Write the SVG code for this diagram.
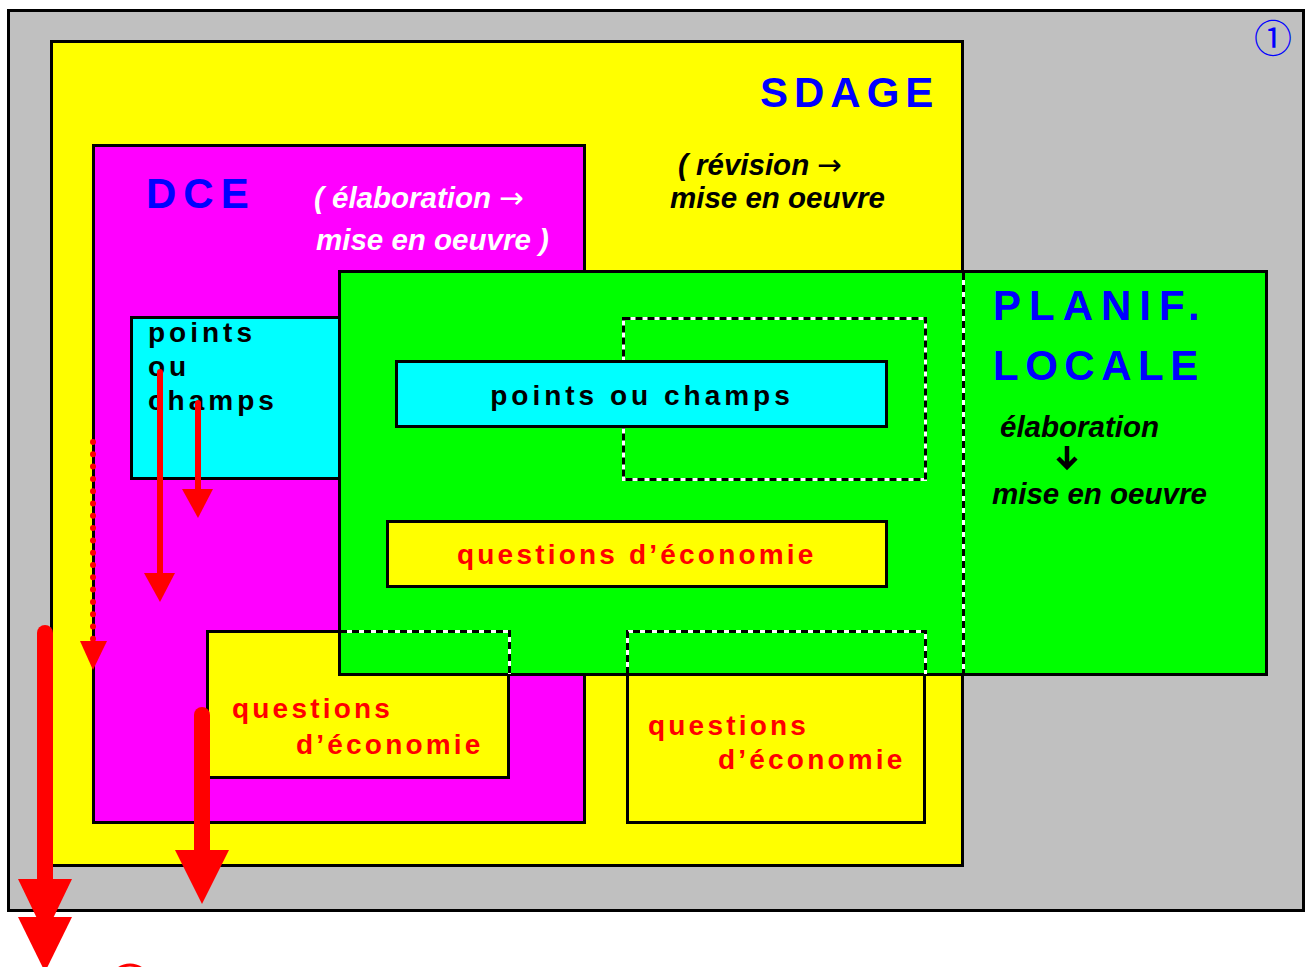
<svg xmlns="http://www.w3.org/2000/svg" width="1306" height="967" viewBox="0 0 1306 967">
<style>
.box{stroke:#000;stroke-width:3}
.t{font-family:"Liberation Sans",Arial,sans-serif;font-weight:bold}
.big{font-size:42px;fill:#0000ff}
.it{font-style:italic;font-size:29.5px}
.pc{font-size:28px;fill:#000;letter-spacing:4px}
.qe{font-size:28px;fill:#ff0000;letter-spacing:3.2px}
.dw{stroke:#fff;stroke-width:3;fill:none}
.db{stroke:#000;stroke-width:3;fill:none;stroke-dasharray:7 5}
.arr{fill:#ff0000}
.thin{font-family:"DejaVu Sans",sans-serif;font-weight:normal;font-style:normal}
</style>
<rect width="1306" height="967" fill="#fff"/>
<g id="cadre">
<rect class="box" x="8.5" y="10.5" width="1295" height="900" fill="#c0c0c0"/>
<text x="1273" y="52" text-anchor="middle" font-family="'Noto Sans CJK JP',sans-serif" font-size="38" fill="#0000ff">①</text>
</g>
<g id="sdage">
<rect class="box" x="51.5" y="41.5" width="911" height="824" fill="#ffff00"/>
<text class="t big" x="760" y="107" letter-spacing="6">SDAGE</text>
<text class="t it" x="678" y="175" fill="#000">( révision <tspan class="thin">→</tspan></text>
<text class="t it" x="670" y="208" fill="#000">mise en oeuvre</text>
</g>
<g id="dce">
<rect class="box" x="93.5" y="145.5" width="491" height="677" fill="#ff00ff"/>
<text class="t big" x="146" y="208" letter-spacing="7">DCE</text>
<text class="t it" x="314" y="208" fill="#fff">( élaboration <tspan class="thin">→</tspan></text>
<text class="t it" x="316" y="250" fill="#fff">mise en oeuvre )</text>
</g>
<g id="points-dce">
<rect class="box" x="131.5" y="317.5" width="220" height="161" fill="#00ffff"/>
<text class="t pc" x="148" y="342">points</text>
<text class="t pc" x="148" y="376">ou</text>
<text class="t pc" x="148" y="410">champs</text>
</g>
<g id="qe-dce">
<rect class="box" x="207.5" y="631.5" width="301" height="146" fill="#ffff00"/>
<text class="t qe" x="232" y="718">questions</text>
<text class="t qe" x="296" y="754">d’économie</text>
</g>
<g id="qe-sdage">
<rect class="box" x="627.5" y="631.5" width="297" height="191" fill="#ffff00"/>
<text class="t qe" x="648" y="735">questions</text>
<text class="t qe" x="718" y="769">d’économie</text>
</g>
<g id="planif">
<rect class="box" x="339.5" y="271.5" width="927" height="403" fill="#00ff00"/>
<path class="dw" d="M340 631.5H509.5V674M627.5 674V631.5H925.5V674M963.5 273V674M623.5 318.5H925.5V479.5H623.5Z"/>
<path class="db" d="M340 631.5H509.5V674M627.5 674V631.5H925.5V674M963.5 273V674M623.5 318.5H925.5V479.5H623.5Z"/>
<text class="t big" x="993" y="320" font-size="40" letter-spacing="8">PLANIF.</text>
<text class="t big" x="993" y="380" font-size="40" letter-spacing="6.5">LOCALE</text>
<text class="t it" x="1000" y="437" font-size="30" fill="#000">élaboration</text>
<path d="M1067 446V466M1058 458L1067 467L1076 458" fill="none" stroke="#000" stroke-width="4.5"/>
<text class="t it" x="992" y="504" font-size="30" fill="#000">mise en oeuvre</text>
</g>
<g id="points-planif">
<rect class="box" x="396.5" y="361.5" width="490" height="65" fill="#00ffff"/>
<text class="t pc" x="642" y="405" text-anchor="middle" letter-spacing="3">points ou champs</text>
</g>
<g id="qe-planif">
<rect class="box" x="387.5" y="521.5" width="499" height="65" fill="#ffff00"/>
<text class="t qe" x="457" y="564">questions d’économie</text>
</g>
<g id="connectors">
<line x1="93" y1="442" x2="93" y2="640" stroke="#ff0000" stroke-width="6" stroke-linecap="round" stroke-dasharray="0 12.3"/>
<polygon class="arr" points="80,641 107,641 93,670"/>
<line x1="160" y1="372" x2="160" y2="576" stroke="#ff0000" stroke-width="6" stroke-linecap="round"/>
<polygon class="arr" points="144,573 175,573 160,602"/>
<line x1="198" y1="403" x2="198" y2="492" stroke="#ff0000" stroke-width="6" stroke-linecap="round"/>
<polygon class="arr" points="182,489 213,489 198,518"/>
<line x1="45" y1="633" x2="45" y2="882" stroke="#ff0000" stroke-width="16" stroke-linecap="round"/>
<polygon class="arr" points="18,879 72,879 45,935"/>
<polygon class="arr" points="18,917 72,917 45,972"/>
<line x1="202" y1="715" x2="202" y2="853" stroke="#ff0000" stroke-width="16" stroke-linecap="round"/>
<polygon class="arr" points="175,850 229,850 202,904"/>
<circle cx="130" cy="985" r="20" fill="none" stroke="#ff0000" stroke-width="3"/>
</g>
</svg>
